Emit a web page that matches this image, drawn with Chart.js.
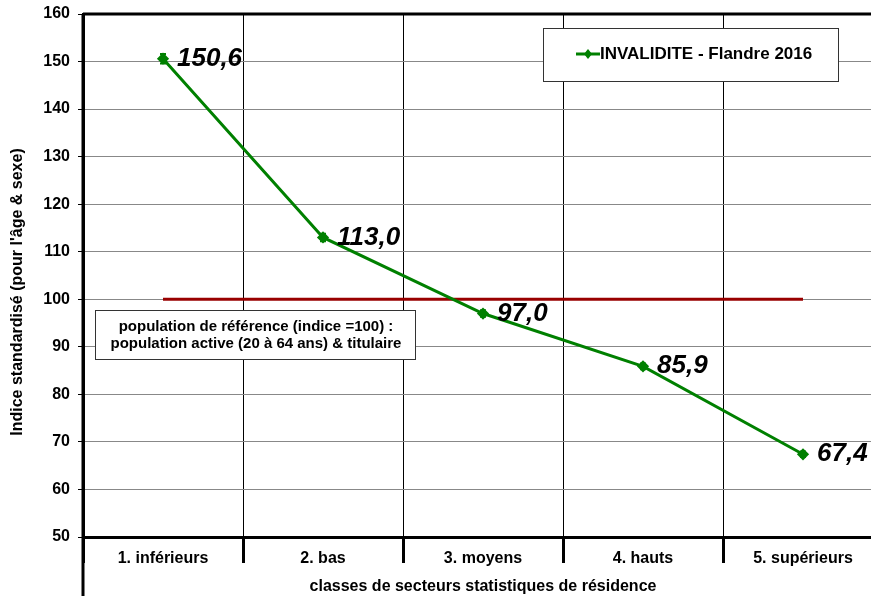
<!DOCTYPE html>
<html lang="fr">
<head>
  <meta charset="UTF-8">
  <title>Invalidité - Flandre 2016</title>
  <script src="https://cdn.jsdelivr.net/npm/chart.js"></script>
  <style>
    body {
      margin: 0;
      background: #fff;
      overflow: hidden;
    }
    #wrap {
      width: 900px;
      height: 596px;
    }
  </style>
</head>
<body>
  <div id="wrap"><canvas id="chart" width="900" height="596"></canvas></div>

  <script>
    const categories = ['1. inférieurs', '2. bas', '3. moyens', '4. hauts', '5. supérieurs'];
    const invalidite = [150.6, 113.0, 97.0, 85.9, 67.4];
    const errLow = [149.6, 112.2, 96.3, 85.3, 66.8];
    const errHigh = [151.6, 113.8, 97.7, 86.5, 68.0];
    const reference = [100, 100, 100, 100, 100];
    const yTitle = "Indice standardisé (pour l'âge & sexe)";
    const note = ['population de référence (indice =100) :', 'population active (20 à 64 ans) & titulaire'];

    const fmt = v => v.toFixed(1).replace('.', ',');
    const FONT = 'Arial, "Liberation Sans", sans-serif';

    // bordure haute, axe gauche prolongé, barres d'erreur, étiquettes, légende, encadré
    const extras = {
      id: 'extras',
      afterDatasetsDraw(chart) {
        const ctx = chart.ctx;
        const a = chart.chartArea;
        const y = chart.scales.y;
        const meta = chart.getDatasetMeta(0);
        ctx.save();

        ctx.strokeStyle = '#000';
        ctx.lineWidth = 3;
        ctx.beginPath();
        ctx.moveTo(a.left, a.top);
        ctx.lineTo(a.right, a.top);
        ctx.moveTo(a.left, a.top);
        ctx.lineTo(a.left, chart.height);
        ctx.stroke();

        // titre de l'axe Y
        ctx.save();
        ctx.translate(18, 292);
        ctx.rotate(-Math.PI / 2);
        ctx.fillStyle = '#000';
        ctx.font = 'bold 16px ' + FONT;
        ctx.textAlign = 'center';
        ctx.textBaseline = 'middle';
        ctx.fillText(yTitle, 0, 0);
        ctx.restore();

        // barres d'erreur
        ctx.strokeStyle = '#008000';
        ctx.lineWidth = 2;
        meta.data.forEach((p, i) => {
          const y1 = y.getPixelForValue(errLow[i]);
          const y2 = y.getPixelForValue(errHigh[i]);
          ctx.beginPath();
          ctx.moveTo(p.x, y1); ctx.lineTo(p.x, y2);
          ctx.moveTo(p.x - 3, y1); ctx.lineTo(p.x + 3, y1);
          ctx.moveTo(p.x - 3, y2); ctx.lineTo(p.x + 3, y2);
          ctx.stroke();
        });

        // valeurs
        ctx.fillStyle = '#000';
        ctx.font = 'italic bold 26px ' + FONT;
        ctx.textAlign = 'left';
        ctx.textBaseline = 'middle';
        meta.data.forEach((p, i) => {
          ctx.fillText(fmt(invalidite[i]), p.x + 14, p.y);
        });

        // légende
        const ds = chart.data.datasets[0];
        ctx.fillStyle = '#fff';
        ctx.fillRect(543, 28, 295, 53);
        ctx.strokeStyle = '#333';
        ctx.lineWidth = 1;
        ctx.strokeRect(543.5, 28.5, 295, 53);
        ctx.strokeStyle = ds.borderColor;
        ctx.lineWidth = 3;
        ctx.beginPath();
        ctx.moveTo(576, 54); ctx.lineTo(600, 54);
        ctx.stroke();
        ctx.fillStyle = ds.borderColor;
        ctx.beginPath();
        ctx.moveTo(588, 49); ctx.lineTo(592, 54); ctx.lineTo(588, 59); ctx.lineTo(584, 54);
        ctx.closePath();
        ctx.fill();
        ctx.fillStyle = '#000';
        ctx.font = 'bold 17px ' + FONT;
        ctx.fillText(ds.label, 600, 54);

        // encadré population de référence
        ctx.fillStyle = '#fff';
        ctx.fillRect(95, 310, 320, 49);
        ctx.strokeStyle = '#333';
        ctx.lineWidth = 1;
        ctx.strokeRect(95.5, 310.5, 320, 49);
        ctx.fillStyle = '#000';
        ctx.font = 'bold 15px ' + FONT;
        ctx.textAlign = 'center';
        ctx.fillText(note[0], 256, 327);
        ctx.fillText(note[1], 256, 344);

        ctx.restore();
      }
    };

    new Chart(document.getElementById('chart'), {
      type: 'line',
      data: {
        labels: categories,
        datasets: [
          {
            label: 'INVALIDITE - Flandre 2016',
            data: invalidite,
            borderColor: '#008000',
            backgroundColor: '#008000',
            borderWidth: 3,
            pointStyle: 'rectRot',
            pointRadius: 4,
            tension: 0
          },
          {
            label: 'référence',
            data: reference,
            borderColor: '#990000',
            borderWidth: 3,
            pointRadius: 0,
            tension: 0
          }
        ]
      },
      options: {
        responsive: false,
        animation: false,
        layout: { padding: { top: 14, right: 17, left: 0, bottom: 0 } },
        plugins: {
          legend: { display: false },
          tooltip: { enabled: false }
        },
        scales: {
          x: {
            offset: true,
            afterFit: s => { s.height = 59; },
            grid: {
              offset: true,
              color: '#000',
              lineWidth: 1,
              tickLength: 26,
              tickWidth: 3,
              tickColor: '#000'
            },
            border: { color: '#000', width: 3 },
            ticks: {
              padding: -14,
              color: '#000',
              font: { family: FONT, size: 16, weight: 'bold' }
            },
            title: {
              display: true,
              text: 'classes de secteurs statistiques de résidence',
              color: '#000',
              font: { family: FONT, size: 16, weight: 'bold' },
              padding: { top: 0, bottom: 0 }
            }
          },
          y: {
            min: 50,
            max: 160,
            afterFit: s => { s.width = 83; s.paddingTop = 0; s.paddingBottom = 0; },
            ticks: {
              stepSize: 10,
              color: '#000',
              padding: 8,
              font: { family: FONT, size: 16, weight: 'bold' }
            },
            grid: {
              color: '#888',
              lineWidth: 1,
              tickLength: 5,
              tickColor: '#000'
            },
            border: { color: '#000', width: 3 }
          }
        }
      },
      plugins: [extras]
    });
  </script>
</body>
</html>
